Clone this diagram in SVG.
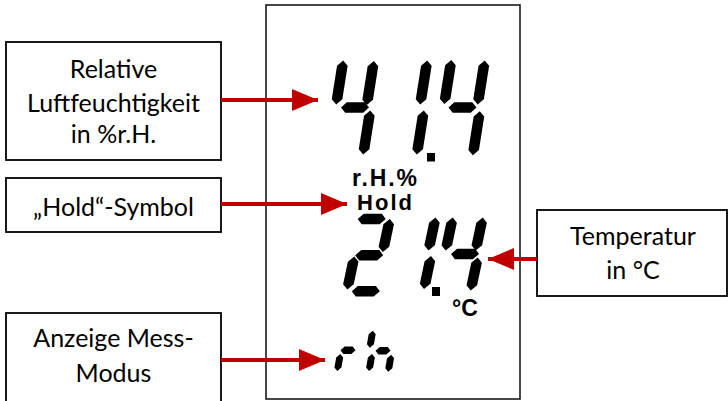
<svg xmlns="http://www.w3.org/2000/svg" xmlns:xlink="http://www.w3.org/1999/xlink" width="728" height="401" viewBox="0 0 728 401">
<style>
.box{fill:#fff;stroke:#000;stroke-width:1.8}
.lbl{font-family:Lato,"Liberation Sans",sans-serif;font-size:25px;fill:#000;text-anchor:middle}
.lcd{font-family:"Liberation Sans",Arial,sans-serif;font-weight:bold;fill:#000}
.arr{stroke:#C00000;stroke-width:4;fill:none}
.seg{fill:#000}
</style>
<defs>
<marker id="ah" markerUnits="userSpaceOnUse" markerWidth="26" markerHeight="22" refX="26" refY="11" orient="auto">
<path d="M0,0 L26,11 L0,22 z" fill="#C00000"/>
</marker>
<polygon id="vt" class="seg" points="0,-22 5.3,-16.7 5.3,16.7 0,22 -5.3,16.7 -5.3,-16.7"/>
<polygon id="vb" class="seg" points="0,-16.5 5.3,-11.2 5.3,11.2 0,16.5 -5.3,11.2 -5.3,-11.2"/>
<polygon id="ht" class="seg" points="-14,0 -9,-5.2 9,-5.2 14,0 9,5.2 -9,5.2"/>
<polygon id="vs" class="seg" points="0,-8.5 3.5,-5 3.5,5 0,8.5 -3.5,5 -3.5,-5"/>
<polygon id="hs" class="seg" points="-7.5,0 -4,-3.8 4,-3.8 7.5,0 4,3.8 -4,3.8"/>
</defs>

<g id="display">
<rect x="266" y="5" width="254" height="394" fill="#fff" stroke="#1a1a1a" stroke-width="1.6"/>
</g>

<g id="digits-rh">
<use xlink:href="#vt" transform="translate(339.7,82.5) skewX(-9)"/>
<use xlink:href="#vt" transform="translate(370.3,83) skewX(-9)"/>
<use xlink:href="#ht" transform="translate(355,107.5) skewX(-9)"/>
<use xlink:href="#vt" transform="translate(366.7,132.5) skewX(-9)"/>
<use xlink:href="#vt" transform="translate(423.7,82.5) skewX(-9)"/>
<use xlink:href="#vt" transform="translate(420.3,132.5) skewX(-9)"/>
<rect x="427" y="153" width="8" height="8.5" class="seg"/>
<use xlink:href="#vt" transform="translate(447.8,82) skewX(-9)"/>
<use xlink:href="#vt" transform="translate(481.2,82.5) skewX(-9)"/>
<use xlink:href="#ht" transform="translate(462.5,107.5) skewX(-9)"/>
<use xlink:href="#vt" transform="translate(476.3,133.3) skewX(-9)"/>
</g>

<g id="labels-lcd">
<text class="lcd" x="352" y="186" font-size="23" textLength="65" lengthAdjust="spacing">r.H.%</text>
<text class="lcd" x="357" y="209.5" font-size="22" textLength="55" lengthAdjust="spacing">Hold</text>
<text class="lcd" x="452" y="316" font-size="23">°C</text>
</g>

<g id="digits-temp">
<use xlink:href="#ht" transform="translate(371.7,219) skewX(-12)"/>
<use xlink:href="#vb" transform="translate(386.3,235.5) skewX(-12)"/>
<use xlink:href="#ht" transform="translate(369.2,255.2) skewX(-12)"/>
<use xlink:href="#vb" transform="translate(350.8,273) skewX(-12)"/>
<use xlink:href="#ht" transform="translate(365.8,291.3) skewX(-12)"/>
<use xlink:href="#vb" transform="translate(432,234) skewX(-12)"/>
<use xlink:href="#vb" transform="translate(427.5,272.5) skewX(-12)"/>
<rect x="432" y="287" width="8" height="9" class="seg"/>
<use xlink:href="#vb" transform="translate(449.2,234) skewX(-12)"/>
<use xlink:href="#vb" transform="translate(479.2,234) skewX(-12)"/>
<use xlink:href="#ht" transform="translate(465,254) skewX(-12)"/>
<use xlink:href="#vb" transform="translate(474.2,274) skewX(-12)"/>
</g>

<g id="digits-mode">
<use xlink:href="#vs" transform="translate(338.8,362.5) skewX(-10)"/>
<use xlink:href="#hs" transform="translate(348,350.3) skewX(-10)"/>
<use xlink:href="#vs" transform="translate(371.3,339.2) skewX(-10)"/>
<use xlink:href="#vs" transform="translate(370.5,362.5) skewX(-10)"/>
<use xlink:href="#hs" transform="translate(383,350.8) skewX(-10)"/>
<use xlink:href="#vs" transform="translate(389.7,363.3) skewX(-10)"/>
</g>

<g id="node-humidity">
<rect class="box" x="6" y="42" width="215" height="118"/>
<text class="lbl" x="113.5" y="78">Relative</text>
<text class="lbl" x="113.5" y="112">Luftfeuchtigkeit</text>
<text class="lbl" x="113.5" y="143">in %r.H.</text>
</g>

<g id="node-hold">
<rect class="box" x="6" y="178" width="215" height="54"/>
<text class="lbl" x="113.5" y="216">„Hold“-Symbol</text>
</g>

<g id="node-temp">
<rect class="box" x="537" y="210" width="190" height="86"/>
<text class="lbl" x="633" y="245">Temperatur</text>
<text class="lbl" x="633" y="279">in °C</text>
</g>

<g id="node-mode">
<rect class="box" x="6" y="313" width="215" height="95"/>
<text class="lbl" x="113.5" y="347">Anzeige Mess-</text>
<text class="lbl" x="113.5" y="382">Modus</text>
</g>

<g id="connectors">
<line class="arr" x1="221" y1="100" x2="318" y2="100" marker-end="url(#ah)"/>
<line class="arr" x1="221" y1="204" x2="347" y2="204" marker-end="url(#ah)"/>
<line class="arr" x1="537" y1="259" x2="488" y2="259" marker-end="url(#ah)"/>
<line class="arr" x1="221" y1="360" x2="325" y2="360" marker-end="url(#ah)"/>
</g>
</svg>
